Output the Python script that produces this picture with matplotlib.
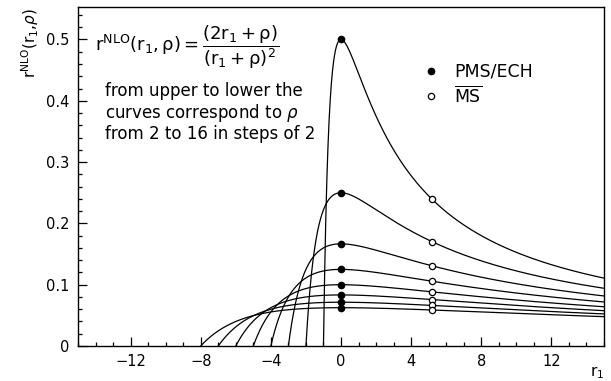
import numpy as np
import matplotlib
matplotlib.use("Agg")
import matplotlib.pyplot as plt
from matplotlib.ticker import MultipleLocator, FuncFormatter

# ---- data ----
rho_values = [2, 4, 6, 8, 10, 12, 14, 16]   # from upper to lower curve
r1_pms = 0.0        # PMS/ECH point position
r1_ms = 5.2         # MS-bar point position
r1_max = 15.0       # end of plotted range

def r_nlo(r1, rho):
    # the function written in the chart
    return (2 * r1 + rho) / (r1 + rho) ** 2

plt.rcParams['font.family'] = ['DejaVu Sans']
plt.rcParams['mathtext.fontset'] = 'dejavusans'

W, H = 611, 381
fig = plt.figure(figsize=(W / 100, H / 100), dpi=100)
ax = fig.add_axes([78 / W, 35 / H, 526 / W, 339 / H])

for rho in rho_values:
    r1 = np.linspace(-rho / 2, r1_max, 1500)
    ax.plot(r1, r_nlo(r1, rho), color='black', lw=0.9)

pms_y = [r_nlo(r1_pms, rho) for rho in rho_values]
ms_y = [r_nlo(r1_ms, rho) for rho in rho_values]
h1, = ax.plot([r1_pms] * len(rho_values), pms_y, 'o', color='black', ms=4.5,
              ls='none', zorder=3, label='PMS/ECH')
h2, = ax.plot([r1_ms] * len(rho_values), ms_y, 'o', mfc='white', mec='black',
              mew=0.9, ms=4.5, ls='none', zorder=3, label=r'$\overline{\mathrm{MS}}$')

ax.set_xlim(-15, 15)
ax.set_ylim(0, 0.553)
ax.xaxis.set_major_locator(MultipleLocator(4))
ax.xaxis.set_minor_locator(MultipleLocator(1))
ax.yaxis.set_major_locator(MultipleLocator(0.1))
ax.yaxis.set_minor_locator(MultipleLocator(0.02))
ax.yaxis.set_major_formatter(FuncFormatter(lambda v, p: '0' if abs(v) < 1e-9 else f'{v:.1f}'))
ax.xaxis.set_major_formatter(FuncFormatter(lambda v, p: f'{int(round(v))}'.replace('-', '\u2212')))
ax.tick_params(which='both', direction='in', top=False, right=False, labelsize=10.5, width=0.9)
ax.tick_params(which='major', length=6.5, pad=6)
ax.tick_params(which='minor', length=3)
for s in ax.spines.values():
    s.set_linewidth(1.0)

def fx(px):
    return px / W

def fy(py):
    return 1 - py / H

fig.text(fx(30), fy(8), r'r$^{\mathrm{NLO}}$(r$_1$,$\rho$)', rotation=90,
         ha='center', va='top', fontsize=11)
fig.text(fx(597), fy(373), r'r$_1$', ha='center', va='center', fontsize=11)

fig.text(fx(95), fy(37), r'$\mathrm{r^{NLO}(r_1,\rho)=\dfrac{(2r_1+\rho)}{(r_1+\rho)^2}}$',
         fontsize=13, va='center_baseline', ha='left')
fig.text(fx(105), fy(82),
         'from upper to lower the\ncurves correspond to $\\rho$\nfrom 2 to 16 in steps of 2',
         fontsize=12, va='top', ha='left', linespacing=1.1)

ax.legend(handles=[h1, h2], loc='upper left', bbox_to_anchor=(0.655, 0.835),
          frameon=False, fontsize=12.5, handlelength=1.0, handletextpad=0.8,
          labelspacing=0.25, borderpad=0, borderaxespad=0)

fig.savefig('out.png', dpi=100)
